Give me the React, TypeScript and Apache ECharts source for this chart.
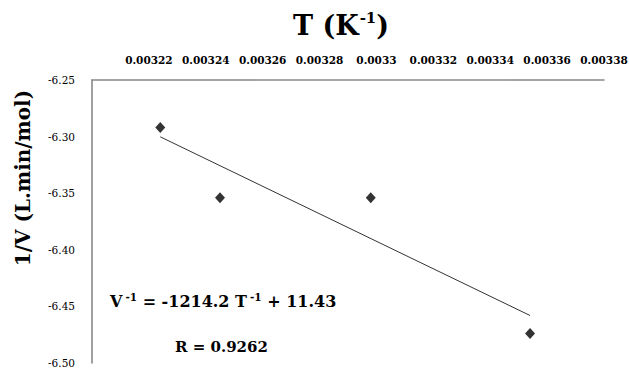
import React, { useEffect, useRef } from "react";
import * as echarts from "echarts";

// Data
const xValues = [0.003224, 0.003245, 0.003298, 0.003354]; // T (K^-1)
const yValues = [-6.292, -6.354, -6.354, -6.474]; // 1/V (L.min/mol)

const xMin = 0.0032;
const xMax = 0.00338;
const xStep = 0.00002;
const yMin = -6.5;
const yMax = -6.25;
const yStep = 0.05;

const equationParts = ["V", "-1", " = -1214.2 T", "-1", " + 11.43"];
const rText = "R = 0.9262";
const xTitleParts = ["T (K", "-1", ")"];
const yTitle = "1/V (L.min/mol)";

const FONT = "'DejaVu Serif'";

function linearFit(xs: number[], ys: number[]) {
  const n = xs.length;
  const mx = xs.reduce((a, b) => a + b, 0) / n;
  const my = ys.reduce((a, b) => a + b, 0) / n;
  let sxy = 0;
  let sxx = 0;
  for (let i = 0; i < n; i++) {
    sxy += (xs[i] - mx) * (ys[i] - my);
    sxx += (xs[i] - mx) * (xs[i] - mx);
  }
  const slope = sxy / sxx;
  return { slope, intercept: my - slope * mx };
}

export default function App() {
  const ref = useRef<HTMLDivElement>(null);

  useEffect(() => {
    if (!ref.current) return;
    const chart = echarts.init(ref.current, null, { renderer: "svg" });
    const fit = linearFit(xValues, yValues);
    const x0 = Math.min(...xValues);
    const x1 = Math.max(...xValues);
    const trend = [
      [x0, fit.slope * x0 + fit.intercept],
      [x1, fit.slope * x1 + fit.intercept],
    ];
    const points = xValues.map((x, i) => [x, yValues[i]]);

    chart.setOption({
      animation: false,
      backgroundColor: "#ffffff",
      textStyle: { fontFamily: FONT },
      grid: { left: 92, right: 25, top: 80, bottom: 6, containLabel: false, outerBoundsMode: "none" },
      xAxis: {
        type: "value",
        position: "top",
        min: xMin,
        max: xMax,
        interval: xStep,
        splitLine: { show: false },
        axisTick: { show: false },
        axisLine: { show: true, onZero: false, lineStyle: { color: "#888888", width: 1.5 } },
        axisLabel: {
          showMinLabel: false,
          showMaxLabel: true,
          hideOverlap: false,
          margin: 15,
          fontFamily: FONT,
          fontSize: 10.5,
          fontWeight: "bold",
          color: "#000000",
          formatter: (v: number) => String(Number(v.toFixed(5))),
        },
      },
      yAxis: {
        type: "value",
        min: yMin,
        max: yMax,
        interval: yStep,
        splitLine: { show: false },
        axisTick: { show: false },
        axisLine: { show: true, onZero: false, lineStyle: { color: "#808080", width: 1.5 } },
        axisLabel: {
          margin: 17,
          fontFamily: FONT,
          fontSize: 10.5,
          color: "#000000",
          formatter: (v: number) => v.toFixed(2),
        },
      },
      series: [
        {
          type: "line",
          data: trend,
          showSymbol: false,
          symbol: "none",
          lineStyle: { color: "#333333", width: 1 },
          silent: true,
        },
        {
          type: "scatter",
          data: points,
          symbol: "diamond",
          symbolSize: [10, 11],
          itemStyle: { color: "#000000" },
        },
      ],
      graphic: [
        {
          type: "text",
          x: 341,
          y: 25,
          style: {
            text: `{b|${xTitleParts[0]}}{s|${xTitleParts[1]}}{b|${xTitleParts[2]}}`,
            align: "center",
            verticalAlign: "middle",
            rich: {
              b: { fontFamily: FONT, fontSize: 27, fontWeight: "bold", fill: "#000", lineHeight: 30 },
              s: { fontFamily: FONT, fontSize: 15, fontWeight: "bold", fill: "#000", lineHeight: 15, padding: [0, 0, 14, 1] },
            },
          },
        },
        {
          type: "text",
          x: 23,
          y: 178,
          rotation: Math.PI / 2,
          style: {
            text: yTitle,
            align: "center",
            verticalAlign: "middle",
            fontFamily: FONT,
            fontSize: 20,
            fontWeight: "bold",
            fill: "#000",
          },
        },
        {
          type: "text",
          x: 110,
          y: 301,
          style: {
            text: `{b|${equationParts[0]}}{s|${equationParts[1]}}{b|${equationParts[2]}}{s|${equationParts[3]}}{b|${equationParts[4]}}`,
            align: "left",
            verticalAlign: "middle",
            rich: {
              b: { fontFamily: FONT, fontSize: 16, fontWeight: "bold", fill: "#000", lineHeight: 20 },
              s: { fontFamily: FONT, fontSize: 10.5, fontWeight: "bold", fill: "#000", lineHeight: 10, padding: [0, 0, 9, 3] },
            },
          },
        },
        {
          type: "text",
          x: 175,
          y: 347,
          style: {
            text: rText,
            align: "left",
            verticalAlign: "middle",
            fontFamily: FONT,
            fontSize: 15,
            fontWeight: "bold",
            fill: "#000",
          },
        },
      ],
    });

    return () => chart.dispose();
  }, []);

  return (
    <div
      ref={ref}
      style={{ position: "fixed", left: 0, top: 0, width: 629, height: 369, background: "#fff" }}
    />
  );
}
